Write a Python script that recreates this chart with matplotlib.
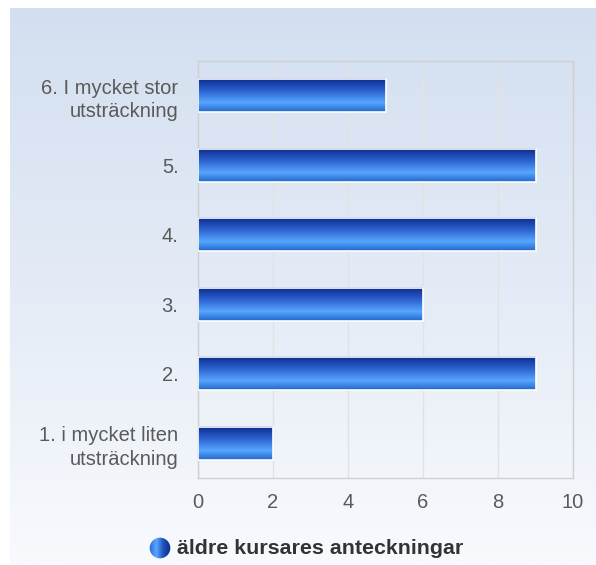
import matplotlib
matplotlib.use("Agg")
import matplotlib.pyplot as plt
import numpy as np
from matplotlib.colors import LinearSegmentedColormap
from matplotlib.patches import Circle

categories = ["1. i mycket liten\nutsträckning", "2.", "3.", "4.", "5.", "6. I mycket stor\nutsträckning"]
values = [2, 9, 6, 9, 9, 5]
xticks = [0, 2, 4, 6, 8, 10]
series_name = "äldre kursares anteckningar"

plt.rcParams['font.family'] = ['Liberation Sans', 'DejaVu Sans']

fig = plt.figure(figsize=(5.96, 5.65), dpi=100)
fig.patch.set_facecolor('white')

# background panel gradient
bg = fig.add_axes([10/596, 0, 586/596, 557/565])
bg_cmap = LinearSegmentedColormap.from_list('bg', ['#d3dff0', '#e4ebf6', '#f8fafd'])
bg.imshow(np.linspace(0, 1, 256).reshape(-1, 1), aspect='auto', cmap=bg_cmap,
          extent=[0, 1, 0, 1], origin='upper')
bg.set_axis_off()
bg.set_zorder(-5)

ax = fig.add_axes([198/596, (565-478)/565, 375/596, 417/565])
ax.set_facecolor('none')
y = np.arange(len(categories))
bars = ax.barh(y, values, height=0.48, color='none', edgecolor='white', linewidth=1.2, zorder=4)

bar_cmap = LinearSegmentedColormap.from_list('bar', [
    (0.0, '#0b2a8a'), (0.35, '#2a5ecc'), (0.72, '#57a6ff'), (1.0, '#2266cc')])
grad = np.linspace(0, 1, 256).reshape(-1, 1)
for b in bars:
    x0, y0 = b.get_x(), b.get_y()
    w, h = b.get_width(), b.get_height()
    ax.imshow(grad, aspect='auto', cmap=bar_cmap, extent=[x0, x0 + w, y0 + h, y0],
              origin='lower', zorder=3, interpolation='bilinear')

ax.set_xlim(0, 10)
ax.set_ylim(-0.5, len(categories) - 0.5)
ax.set_xticks(xticks)
ax.set_xticklabels([str(t) for t in xticks])
ax.set_yticks(y)
ax.set_yticklabels(categories, linespacing=1.3, ha='right')
ax.tick_params(axis='both', length=0, colors='#5a5a5a', labelsize=14.5)
ax.tick_params(axis='y', pad=14)
ax.tick_params(axis='x', pad=11)
ax.grid(axis='x', color='#e2e2e2', linewidth=1, zorder=0)
ax.set_axisbelow(True)
for s in ax.spines.values():
    s.set_color('#cfcfcf')
    s.set_linewidth(1)

# legend
fig.text(177/596, 1 - 549/565, series_name, fontsize=15.4, fontweight='bold',
         color='#333333', va='center', ha='left')
leg_ax = fig.add_axes([149/596, 1 - 559/565, 22/596, 22/565])
leg_ax.set_axis_off()
cg = np.linspace(0, 1, 128).reshape(1, -1)
circ_cmap = LinearSegmentedColormap.from_list('c', ['#2a66d8', '#5aa8ff', '#1d4fb8', '#0b2a8a'])
im = leg_ax.imshow(cg, aspect='auto', cmap=circ_cmap, extent=[0, 1, 0, 1])
c = Circle((0.5, 0.5), 0.47, transform=leg_ax.transData)
im.set_clip_path(c)
leg_ax.set_xlim(0, 1)
leg_ax.set_ylim(0, 1)

fig.savefig('out.png', dpi=100)
